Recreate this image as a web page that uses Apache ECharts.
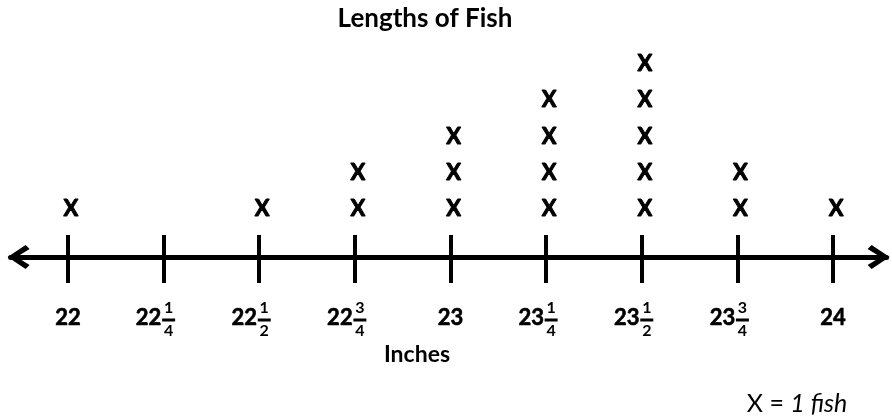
<!DOCTYPE html>
<html>
<head>
<meta charset="utf-8">
<style>html,body{margin:0;padding:0;background:#fff;}#c{width:892px;height:420px;}</style>
<script src="https://cdn.jsdelivr.net/npm/echarts@6/dist/echarts.min.js"></script>
</head>
<body>
<div id="c"></div>
<script>
// ---- data ----
var titleText = "Lengths of Fish";
var axisTitle = "Inches";
var keyText = ["X = ", "1 fish"];
var tickValues = [22, 22.25, 22.5, 22.75, 23, 23.25, 23.5, 23.75, 24];
var tickLabels = ["22", "22 1/4", "22 1/2", "22 3/4", "23", "23 1/4", "23 1/2", "23 3/4", "24"];
var fishCounts = [1, 0, 1, 2, 3, 4, 5, 2, 1];

// ---- helpers ----
function labelOf(v) {
  for (var i = 0; i < tickValues.length; i++) if (Math.abs(tickValues[i] - v) < 1e-9) return tickLabels[i];
  return "";
}
function parts(v) {
  var s = labelOf(v).split(" ");
  var f = s[1] ? s[1].split("/") : null;
  return { whole: s[0], num: f ? f[0] : "", den: f ? f[1] : "" };
}
var wholeOnly = tickValues.filter(function (v) { return !parts(v).num; });
var mixed = tickValues.filter(function (v) { return !!parts(v).num; });

var points = [];
tickValues.forEach(function (v, i) {
  for (var k = 1; k <= fishCounts[i]; k++) points.push([v, k]);
});

var FONT = "Lato";
var X_MIN = 21.85, X_MAX = 24.14;
var OFF = 11.75;

function baseAxis(extra) {
  var a = {
    type: "value", min: X_MIN, max: X_MAX, position: "bottom", offset: OFF,
    axisLine: { show: false, onZero: false },
    axisTick: { show: false },
    axisLabel: { show: false },
    splitLine: { show: false }
  };
  for (var k in extra) a[k] = extra[k];
  return a;
}

var chevron = "path://M12,0 L24,18 L20,22 L12,9 L4,22 L0,18 Z";
var boldWhole = { fontFamily: FONT, fontWeight: "bold", fontSize: 22, lineHeight: 22, color: "#000",
  textBorderColor: "#000", textBorderWidth: 0.6 };

var option = {
  animation: false,
  grid: { left: 10.6, right: 5.4, top: 64, bottom: 174.75, outerBoundsMode: "none" },
  yAxis: { type: "value", min: 0, max: 5, show: false },
  xAxis: [
    baseAxis({
      axisLine: { show: true, onZero: false, symbol: [chevron, chevron], symbolSize: [24, 22], symbolOffset: [8, -8],
        lineStyle: { color: "#000", width: 5 } },
      axisTick: { show: true, inside: false, length: 26, customValues: tickValues, lineStyle: { color: "#000", width: 4 } }
    }),
    baseAxis({
      axisTick: { show: true, inside: true, length: 22, customValues: tickValues, lineStyle: { color: "#000", width: 4 } }
    }),
    baseAxis({
      axisLabel: { show: true, customValues: wholeOnly, margin: 50,
        formatter: function (v) { return "{w|" + parts(v).whole + "}"; },
        rich: { w: boldWhole } }
    }),
    baseAxis({
      axisLabel: { show: true, customValues: mixed, margin: 50,
        formatter: function (v) { return "{w|" + parts(v).whole + "}{sp|}"; },
        rich: {
          w: boldWhole,
          sp: { width: 30, lineHeight: 22, fontSize: 22 }
        } }
    }),
    baseAxis({
      axisLabel: { show: true, customValues: mixed, margin: 43,
        formatter: function (v) { return "{sp|}{n|" + parts(v).num + "}"; },
        rich: {
          n: { fontFamily: FONT, fontWeight: "bold", fontSize: 16, lineHeight: 16, color: "#000" },
          sp: { width: 10, lineHeight: 16, fontSize: 16 }
        } }
    }),
    baseAxis({
      axisLabel: { show: true, customValues: mixed, margin: 61.5,
        formatter: function () { return "{sp|}{b|}"; },
        rich: {
          b: { width: 13, height: 3, lineHeight: 3, fontSize: 3, backgroundColor: "#000" },
          sp: { width: 10, lineHeight: 3, fontSize: 3 }
        } }
    }),
    baseAxis({
      axisLabel: { show: true, customValues: mixed, margin: 66,
        formatter: function (v) { return "{sp|}{d|" + parts(v).den + "}"; },
        rich: {
          d: { fontFamily: FONT, fontWeight: "bold", fontSize: 16, lineHeight: 16, color: "#000" },
          sp: { width: 10, lineHeight: 16, fontSize: 16 }
        } }
    })
  ],
  series: [{
    type: "scatter", xAxisIndex: 0, yAxisIndex: 0, data: points,
    symbol: "circle", symbolSize: 1, itemStyle: { color: "rgba(0,0,0,0)", opacity: 1 },
    silent: true,
    label: { show: true, position: "inside", offset: [3, 0], formatter: "X", color: "#000", opacity: 1,
      textBorderWidth: 1, textBorderColor: "#000",
      fontFamily: FONT, fontWeight: "bold", fontSize: 22 }
  }],
  graphic: [
    { type: "text", x: 425, y: 19, style: { text: titleText, fill: "#000", align: "center", verticalAlign: "middle",
      font: "bold 26px Lato" } },
    { type: "text", x: 417, y: 355, style: { text: axisTitle, fill: "#000", align: "center", verticalAlign: "middle",
      font: "bold 23px Lato" } },
    { type: "text", x: 797, y: 404, style: { text: "{a|" + keyText[0] + "}{b|" + keyText[1] + "}", align: "center", verticalAlign: "middle",
      rich: { a: { fontFamily: FONT, fontSize: 25, color: "#000" }, b: { fontFamily: FONT, fontSize: 25, fontStyle: "italic", color: "#000" } } } }
  ]
};
var chart = echarts.init(document.getElementById("c"), null, { renderer: "canvas" });
chart.setOption(option);
</script>
</body>
</html>
